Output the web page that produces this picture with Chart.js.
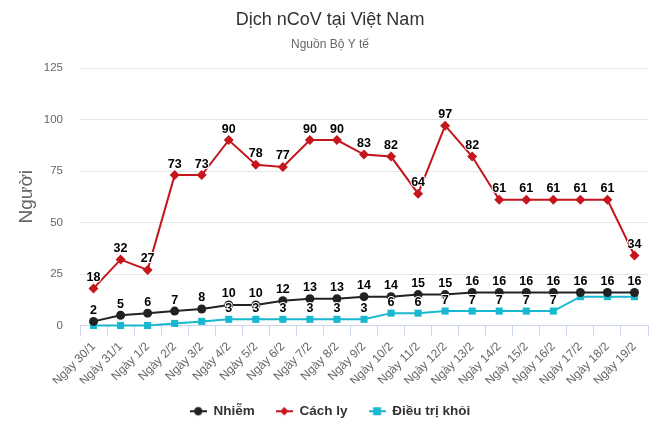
<!DOCTYPE html>
<html>
<head>
<meta charset="utf-8">
<script src="https://cdn.jsdelivr.net/npm/chart.js@4/dist/chart.umd.min.js"></script>
<style>
  html, body { margin: 0; padding: 0; background: #fff; }
  #wrap { width: 660px; height: 440px; }
</style>
</head>
<body>
<div id="wrap"><canvas id="covidChart"></canvas></div>
<script>
const days = ['Ngày 30/1', 'Ngày 31/1', 'Ngày 1/2', 'Ngày 2/2', 'Ngày 3/2', 'Ngày 4/2', 'Ngày 5/2',
    'Ngày 6/2', 'Ngày 7/2', 'Ngày 8/2', 'Ngày 9/2', 'Ngày 10/2', 'Ngày 11/2', 'Ngày 12/2',
    'Ngày 13/2', 'Ngày 14/2', 'Ngày 15/2', 'Ngày 16/2', 'Ngày 17/2', 'Ngày 18/2', 'Ngày 19/2'];
const nhiem = [2, 5, 6, 7, 8, 10, 10, 12, 13, 13, 14, 14, 15, 15, 16, 16, 16, 16, 16, 16, 16];
const cachLy = [18, 32, 27, 73, 73, 90, 78, 77, 90, 90, 83, 82, 64, 97, 82, 61, 61, 61, 61, 61, 34];
const dieuTriKhoi = [0, 0, 0, 1, 2, 3, 3, 3, 3, 3, 3, 6, 6, 7, 7, 7, 7, 7, 14, 14, 14];
const yTicks = [0, 25, 50, 75, 100, 125];

const FONT = '"Liberation Sans", Arial, Helvetica, sans-serif';

// legend symbol: short line with the marker in the middle
function legendSymbol(color, shape) {
    const c = document.createElement('canvas');
    c.width = 17; c.height = 12;
    const g = c.getContext('2d');
    g.strokeStyle = color; g.fillStyle = color; g.lineWidth = 2;
    g.beginPath(); g.moveTo(0, 6); g.lineTo(17, 6); g.stroke();
    g.beginPath();
    if (shape === 'circle') g.arc(8.5, 6, 4.2, 0, Math.PI * 2);
    else if (shape === 'diamond') { g.moveTo(8.5, 1.8); g.lineTo(12.7, 6); g.lineTo(8.5, 10.2); g.lineTo(4.3, 6); g.closePath(); }
    else g.rect(4.5, 2, 8, 8);
    g.fill();
    return c;
}

// Highcharts-like data labels, hidden when they collide with one already drawn
const dataLabels = {
    id: 'dataLabels',
    afterDatasetsDraw(chart) {
        const ctx = chart.ctx;
        const drawn = [];
        ctx.save();
        ctx.font = 'bold 12.5px ' + FONT;
        ctx.textAlign = 'center';
        ctx.textBaseline = 'middle';
        ctx.lineJoin = 'round';
        chart.data.datasets.forEach((ds, di) => {
            const meta = chart.getDatasetMeta(di);
            meta.data.forEach((pt, i) => {
                const txt = String(ds.data[i]);
                const w = ctx.measureText(txt).width;
                const cx = pt.x, cy = pt.y - 11;
                const box = { l: cx - w / 2 - 1, r: cx + w / 2 + 1, t: cy - 7, b: cy + 7 };
                const hit = drawn.some(b => box.l < b.r && box.r > b.l && box.t < b.b && box.b > b.t);
                if (hit) return;
                drawn.push(box);
                ctx.strokeStyle = '#fff';
                ctx.lineWidth = 2;
                ctx.strokeText(txt, cx, cy);
                ctx.fillStyle = '#000';
                ctx.fillText(txt, cx, cy);
            });
        });
        ctx.restore();
    }
};

const ctx = document.getElementById('covidChart').getContext('2d');
new Chart(ctx, {
    type: 'line',
    data: {
        labels: days,
        datasets: [
            {
                label: 'Nhiễm',
                data: nhiem,
                borderColor: '#222222',
                backgroundColor: '#222222',
                borderWidth: 2,
                pointStyle: 'circle',
                pointRadius: 4.5,
                pointHoverRadius: 4.5,
                pointBorderWidth: 0,
                clip: false,
                legendSymbol: legendSymbol('#222222', 'circle')
            },
            {
                label: 'Cách ly',
                data: cachLy,
                borderColor: '#c4161c',
                backgroundColor: '#c4161c',
                borderWidth: 2,
                pointStyle: 'rectRot',
                pointRadius: 5,
                pointHoverRadius: 5,
                pointBorderWidth: 0,
                clip: false,
                legendSymbol: legendSymbol('#c4161c', 'diamond')
            },
            {
                label: 'Điều trị khỏi',
                data: dieuTriKhoi,
                borderColor: '#17b8d0',
                backgroundColor: '#17b8d0',
                borderWidth: 2,
                pointStyle: 'rect',
                pointRadius: 5,
                pointHoverRadius: 5,
                pointBorderWidth: 0,
                clip: false,
                legendSymbol: legendSymbol('#17b8d0', 'square')
            }
        ]
    },
    options: {
        responsive: true,
        maintainAspectRatio: false,
        animation: false,
        layout: { padding: { left: 12, right: 12, top: 0, bottom: 12 } },
        plugins: {
            title: {
                display: true,
                text: 'Dịch nCoV tại Việt Nam',
                color: '#333333',
                font: { family: FONT, size: 18, weight: 'normal' },
                padding: { top: 9, bottom: 4 }
            },
            subtitle: {
                display: true,
                text: 'Nguồn Bộ Y tế',
                color: '#666666',
                font: { family: FONT, size: 12, weight: 'normal' },
                padding: { top: 3, bottom: 16 }
            },
            legend: {
                position: 'bottom',
                labels: {
                    color: '#333333',
                    font: { family: FONT, size: 13.5, weight: 'bold' },
                    usePointStyle: true,
                    pointStyleWidth: 17,
                    padding: 21,
                    generateLabels(chart) {
                        return chart.data.datasets.map((ds, i) => ({
                            text: ds.label,
                            pointStyle: ds.legendSymbol,
                            fillStyle: ds.borderColor,
                            strokeStyle: ds.borderColor,
                            fontColor: '#333333',
                            lineWidth: 0,
                            hidden: !chart.isDatasetVisible(i),
                            datasetIndex: i
                        }));
                    }
                }
            },
            tooltip: { enabled: false }
        },
        scales: {
            x: {
                offset: true,
                grid: {
                    offset: true,
                    drawOnChartArea: false,
                    drawTicks: true,
                    tickLength: 10,
                    color: '#ccd6eb'
                },
                border: { color: '#ccd6eb', width: 1 },
                ticks: {
                    color: '#666666',
                    font: { family: FONT, size: 12 },
                    minRotation: 45,
                    maxRotation: 45,
                    autoSkip: false,
                    padding: 4
                },
                afterFit(scale) { scale.height = 58; }
            },
            y: {
                min: 0,
                max: 125,
                afterBuildTicks(scale) { scale.ticks = yTicks.map(v => ({ value: v })); },
                grid: { color: '#e6e6e6', drawTicks: false },
                border: { display: false },
                ticks: {
                    color: '#666666',
                    font: { family: FONT, size: 11.5 },
                    padding: 17
                },
                title: {
                    display: true,
                    text: 'Người',
                    color: '#666666',
                    font: { family: FONT, size: 19 },
                    padding: { top: 3, bottom: 4 }
                },
                afterFit(scale) { scale.width = 68; }
            }
        }
    },
    plugins: [dataLabels]
});
</script>
</body>
</html>
